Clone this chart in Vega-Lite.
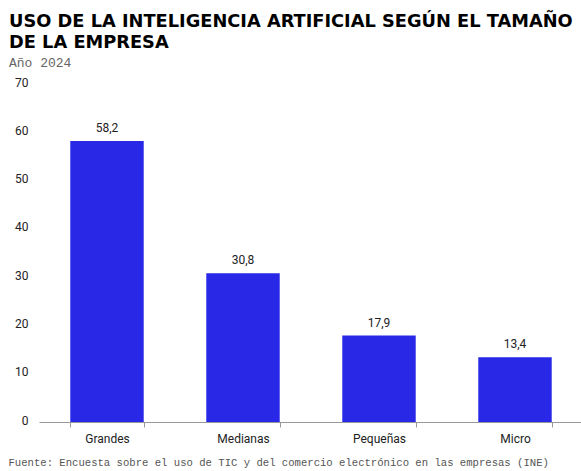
{
  "$schema": "https://vega.github.io/schema/vega-lite/v6.json",
  "width": 544,
  "height": 338,
  "autosize": {"type": "none"},
  "padding": {"left": 39, "top": 84, "right": 0, "bottom": 49},
  "background": "white",
  "config": {
    "view": {"stroke": null},
    "locale": {"number": {"decimal": ",", "thousands": ".", "grouping": [3], "currency": ["", " €"]}}
  },
  "title": {
    "text": ["USO DE LA INTELIGENCIA ARTIFICIAL SEGÚN EL TAMAÑO", "DE LA EMPRESA"],
    "subtitle": "Año 2024",
    "anchor": "start",
    "frame": "group",
    "dx": -30,
    "offset": 6,
    "font": "DejaVu Sans",
    "fontWeight": "bold",
    "fontSize": 17.8,
    "lineHeight": 21,
    "color": "#000000",
    "subtitleFont": "Liberation Mono",
    "subtitleFontSize": 13,
    "subtitleColor": "#666666",
    "subtitlePadding": 5
  },
  "data": {
    "values": [
      {"tamano": "Grandes", "valor": 58.2},
      {"tamano": "Medianas", "valor": 30.8},
      {"tamano": "Pequeñas", "valor": 17.9},
      {"tamano": "Micro", "valor": 13.4}
    ]
  },
  "encoding": {
    "x": {
      "field": "tamano",
      "type": "nominal",
      "sort": null,
      "scale": {"paddingInner": 0.46, "paddingOuter": 0.23},
      "axis": {
        "title": "Fuente: Encuesta sobre el uso de TIC y del comercio electrónico en las empresas (INE)",
        "titleFont": "Liberation Mono",
        "titleFontSize": 10.6,
        "titleFontWeight": "normal",
        "titleColor": "#555555",
        "titleAnchor": "start",
        "titleAlign": "left",
        "titleX": -31,
        "titlePadding": 13,
        "labelAngle": 0,
        "labelFont": "Roboto",
        "labelFontSize": 12,
        "labelColor": "#222222",
        "labelPadding": 6,
        "domainColor": "#999999",
        "tickColor": "#999999",
        "tickBand": "extent",
        "tickSize": 5
      }
    },
    "y": {
      "field": "valor",
      "type": "quantitative",
      "scale": {"domain": [0, 70]},
      "axis": {
        "title": null,
        "values": [0, 10, 20, 30, 40, 50, 60, 70],
        "grid": false,
        "domain": false,
        "ticks": false,
        "labelFont": "Roboto",
        "labelFontSize": 12,
        "labelColor": "#222222",
        "labelPadding": 11,
        "labelOffset": -2
      }
    }
  },
  "layer": [
    {"mark": {"type": "bar", "color": "#2828E6"}},
    {
      "mark": {"type": "text", "font": "Roboto", "fontSize": 12, "color": "#222222", "baseline": "bottom", "dy": -6},
      "encoding": {"text": {"field": "valor", "type": "quantitative", "format": ".1f"}}
    }
  ]
}
